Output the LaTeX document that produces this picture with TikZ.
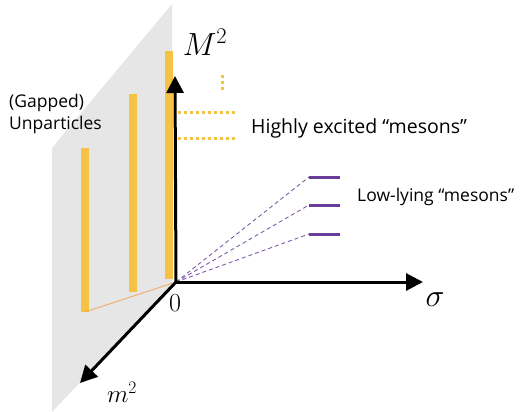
\RequirePackage{fix-cm}
\documentclass[tikz,border=0pt]{standalone}
\usepackage{fontspec}
\setsansfont{Open Sans}
\usepackage{tikz}
\usetikzlibrary{arrows.meta, positioning}
\definecolor{barorange}{HTML}{F6C244}
\definecolor{mesonpurple}{HTML}{6A3D9A}
\definecolor{planegray}{HTML}{E6E6E6}
\definecolor{linkorange}{HTML}{F2A65A}
\tikzstyle{axis} = [line width=3pt, -{Triangle[length=17pt,width=17pt]}]

\begin{document}
\begin{tikzpicture}[x=1pt, y=-1pt]
    \tikzstyle{bar} = [line width=7.5pt, barorange]
    \tikzstyle{level} = [line width=3pt, mesonpurple]
    \tikzstyle{guide} = [line width=0.9pt, dash pattern=on 4pt off 3pt, mesonpurple!85]
    \tikzstyle{excited} = [line width=3pt, barorange, dash pattern=on 3pt off 3pt]
    \tikzstyle{label} = [font=\sffamily\fontsize{17.5}{22}\selectfont, align=left, inner sep=0pt]
    \tikzstyle{axislabel} = [font=\fontsize{32}{34}\selectfont, inner sep=0pt]

    \useasboundingbox (0,0) rectangle (528,412);
    \fill[planegray] (172,4) -- (172,286) -- (52,412) -- (52,148) -- cycle;

    \coordinate (O) at (176,282);
    \coordinate (b1) at (85,312);
    \draw[bar] (b1) -- (85,148);
    \draw[bar] (133,292) -- (133,94);
    \draw[bar] (169,279) -- (169,51);
    \draw[linkorange, line width=0.8pt] (b1) -- (O);

    \draw[excited] (178,113) -- (236,113);
    \draw[excited] (178,138) -- (236,138);
    \draw[excited] (222,75) -- (222,91);

    \foreach \y/\n in {177/1, 205/2, 234/3} {
        \coordinate (lev\n) at (309,\y);
        \draw[guide] (O) -- (lev\n);
        \draw[level] (lev\n) -- ++(31,0);
    }

    \coordinate (Mtip) at (175,76);
    \coordinate (stip) at (423,282);
    \coordinate (mtip) at (80,383);
    \draw[axis] (O) -- (Mtip);
    \draw[axis] (O) -- (stip);
    \draw[axis] (O) -- (mtip);

    \node[axislabel] (Mlab) at (205,42) {$M^2$};
    \node[axislabel] (slab) at (435,300) {$\sigma$};
    \node[axislabel, font=\fontsize{26}{28}\selectfont] (zero) at (175,303) {$0$};
    \node[axislabel, font=\fontsize{25}{27}\selectfont] (mlab) at (122,392) {$m^2$};

    \node[label, anchor=west] (unpart) at (9,114) {(Gapped)\\Unparticles};
    \node[label, anchor=west, font=\sffamily\fontsize{19.5}{22}\selectfont] (excit) at (251,128) {Highly excited “mesons”};
    \node[label, anchor=west] (lowly) at (357,197) {Low-lying “mesons”};
\end{tikzpicture}
\end{document}
